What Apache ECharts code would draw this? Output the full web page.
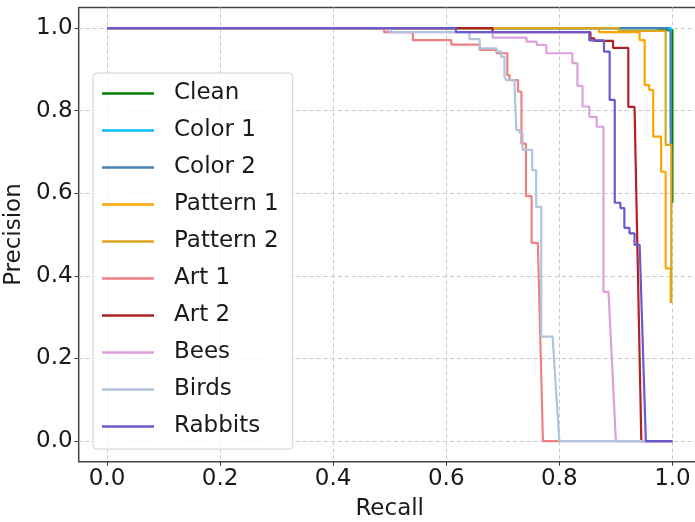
<!DOCTYPE html>
<html><head><meta charset="utf-8">
<script src="https://cdn.jsdelivr.net/npm/echarts@6/dist/echarts.min.js"></script>
<style>html,body{margin:0;padding:0;background:#fff}#c{width:695px;height:522px}</style>
</head><body><div id="c"></div>
<script>
// ---- data: [recall, precision] pairs ----
const seriesNames = ['Clean','Color 1','Color 2','Pattern 1','Pattern 2','Art 1','Art 2','Bees','Birds','Rabbits'];
const seriesColors = ['#008000','#00BFFF','#4682B4','#FFA500','#DAA520','#F08080','#B22222','#DDA0DD','#B0C4DE','#6A5ACD'];
const clean = [[0,1],[0.975,1],[0.975,0.995],[1.0,0.995],[1.0,0.577]];
const color1 = [[0,1],[0.99,1],[0.997,1],[0.997,0.76]];
const color2 = [[0,1],[0.99,1],[0.997,0.99],[0.997,0.717]];
const pattern1 = [[0,1],[0.87,1],[0.87,0.99],[0.942,0.99],[0.942,0.971],[0.951,0.971],[0.951,0.862],[0.959,0.862],[0.959,0.85],[0.966,0.85],[0.966,0.737],[0.98,0.737],[0.98,0.652],[0.988,0.652],[0.988,0.418],[0.997,0.418],[0.997,0.334]];
const pattern2 = [[0,1],[0.905,1],[0.905,0.993],[0.988,0.993],[0.988,0.717],[0.998,0.717],[0.998,0.334]];
const art1 = [[0,1],[0.49,1],[0.49,0.99],[0.541,0.99],[0.541,0.971],[0.609,0.971],[0.609,0.96],[0.659,0.96],[0.659,0.947],[0.689,0.947],[0.689,0.939],[0.708,0.939],[0.708,0.886],[0.712,0.886],[0.712,0.874],[0.727,0.874],[0.727,0.846],[0.733,0.846],[0.733,0.72],[0.741,0.72],[0.741,0.593],[0.751,0.593],[0.751,0.48],[0.762,0.48],[0.771,0],[1,0]];
const art2 = [[0,1],[0.682,1],[0.682,0.99],[0.855,0.99],[0.855,0.975],[0.862,0.975],[0.862,0.969],[0.895,0.969],[0.895,0.952],[0.922,0.952],[0.922,0.809],[0.933,0.809],[0.945,0],[1,0]];
const bees = [[0,1],[0.497,1],[0.497,0.99],[0.682,0.99],[0.682,0.977],[0.742,0.977],[0.742,0.967],[0.76,0.967],[0.76,0.959],[0.777,0.959],[0.777,0.939],[0.823,0.939],[0.823,0.915],[0.832,0.915],[0.832,0.86],[0.841,0.86],[0.841,0.81],[0.853,0.81],[0.853,0.785],[0.866,0.785],[0.866,0.761],[0.878,0.761],[0.878,0.361],[0.887,0.361],[0.9,0],[1,0]];
const birds = [[0,1],[0.503,1],[0.503,0.99],[0.641,0.99],[0.641,0.973],[0.659,0.973],[0.659,0.951],[0.689,0.951],[0.689,0.943],[0.697,0.943],[0.697,0.93],[0.703,0.93],[0.703,0.882],[0.706,0.882],[0.706,0.874],[0.721,0.874],[0.721,0.85],[0.724,0.85],[0.724,0.753],[0.73,0.753],[0.73,0.746],[0.735,0.746],[0.735,0.705],[0.752,0.705],[0.752,0.656],[0.759,0.656],[0.759,0.567],[0.768,0.567],[0.768,0.253],[0.788,0.253],[0.8,0],[1,0]];
const rabbits = [[0,1],[0.617,1],[0.617,0.99],[0.853,0.99],[0.853,0.97],[0.879,0.97],[0.879,0.943],[0.889,0.943],[0.889,0.826],[0.898,0.826],[0.898,0.577],[0.908,0.577],[0.908,0.564],[0.915,0.564],[0.915,0.516],[0.924,0.516],[0.924,0.503],[0.933,0.503],[0.933,0.475],[0.942,0.475],[0.953,0],[1,0]];
const tickValues = [0, 0.2, 0.4, 0.6, 0.8, 1.0];

// ---- chart ----
const dataList = [clean,color1,color2,pattern1,pattern2,art1,art2,bees,birds,rabbits];
const font = 'DejaVu Sans';
const txt = '#1a1a1a';
const chart = echarts.init(document.getElementById('c'), null, {renderer:'canvas'});
const series = seriesNames.map((n,i)=>({
  name:n, type:'line', data:dataList[i], symbol:'none', showSymbol:false,
  lineStyle:{color:seriesColors[i], width:2.2}, itemStyle:{color:seriesColors[i]},
  z:2, animation:false
}));
function axisCommon(name, gap){
  return {
    type:'value', min:-0.05, max:1.05,
    axisLine:{show:false, onZero:false},
    axisTick:{show:true, customValues:tickValues, length:4, lineStyle:{color:'#333', width:1}},
    axisLabel:{customValues:tickValues, formatter:v=>v.toFixed(1), fontSize:23, fontFamily:font, color:txt, margin:6},
    splitLine:{show:true, lineStyle:{type:[4,3], color:'#c8c8c8', width:1}},
    name:name, nameLocation:'middle', nameGap:gap,
    nameTextStyle:{fontSize:23, fontFamily:font, color:txt}
  };
}
chart.setOption({
  backgroundColor:'#fff',
  animation:false,
  grid:{left:78.7, top:7.4, width:622, height:454.3, containLabel:false, outerBoundsMode:'none',
        show:true, borderColor:'#444', borderWidth:1.5, backgroundColor:'transparent'},
  xAxis:axisCommon('Recall', 36),
  yAxis:axisCommon('Precision', 46),
  legend:{
    show:true, orient:'vertical', left:93, top:73, data:seriesNames,
    icon:'rect', itemWidth:52, itemHeight:2.5, itemGap:14,
    padding:[9,14,11,9], backgroundColor:'rgba(255,255,255,0.8)',
    borderColor:'#d0d0d0', borderWidth:1, borderRadius:4, selectedMode:false,
    textStyle:{fontSize:23, fontFamily:font, color:txt, lineHeight:23, padding:[0,0,0,15]}
  },
  series:series
});
</script></body></html>
